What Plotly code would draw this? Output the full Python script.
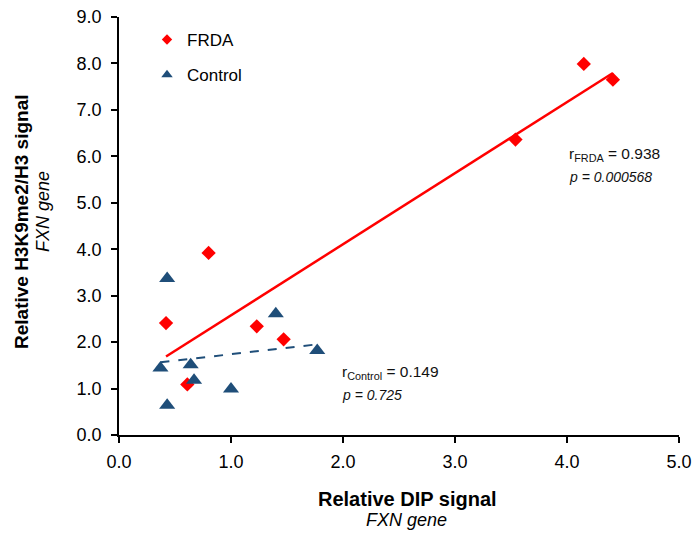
import numpy as np
import plotly.graph_objects as go

# ---- data ----
frda_x = [4.15, 4.41, 3.54, 0.80, 0.42, 1.23, 1.47, 0.61]
frda_y = [7.99, 7.65, 6.36, 3.92, 2.41, 2.34, 2.06, 1.09]
ctrl_x = [0.43, 1.40, 0.37, 0.64, 0.67, 1.00, 1.77, 0.43]
ctrl_y = [3.37, 2.61, 1.44, 1.51, 1.18, 0.99, 1.82, 0.64]
x_ticks = [0, 1, 2, 3, 4, 5]
x_tick_labels = ["0.0", "1.0", "2.0", "3.0", "4.0", "5.0"]
y_ticks = [0, 1, 2, 3, 4, 5, 6, 7, 8, 9]
y_tick_labels = ["0.0", "1.0", "2.0", "3.0", "4.0", "5.0", "6.0", "7.0", "8.0", "9.0"]
r_frda, p_frda = "0.938", "0.000568"
r_ctrl, p_ctrl = "0.149", "0.725"

RED = "#FF0000"
BLUE = "#1F4E79"
FONT = "Liberation Sans, Arial, sans-serif"


def fit_line(xs, ys):
    m, b = np.polyfit(xs, ys, 1)
    x0, x1 = min(xs), max(xs)
    return [x0, x1], [m * x0 + b, m * x1 + b]


fig = go.Figure()

fx, fy = fit_line(frda_x, frda_y)
cx, cy = fit_line(ctrl_x, ctrl_y)

fig.add_trace(go.Scatter(x=fx, y=fy, mode="lines", line=dict(color=RED, width=2.5),
                         showlegend=False, hoverinfo="skip"))
fig.add_trace(go.Scatter(x=cx, y=cy, mode="lines", line=dict(color=BLUE, width=2, dash="dash"),
                         showlegend=False, hoverinfo="skip"))

fig.add_trace(go.Scatter(x=frda_x, y=frda_y, mode="markers", name="FRDA",
                         marker=dict(symbol="diamond", size=11, color=RED),
                         showlegend=False))
fig.add_trace(go.Scatter(x=ctrl_x, y=ctrl_y, mode="markers", name="Control",
                         marker=dict(symbol="triangle-up", size=14, color=BLUE),
                         showlegend=False))

# legend entries (small symbols like the original)
fig.add_trace(go.Scatter(x=[None], y=[None], mode="markers", name="FRDA",
                         marker=dict(symbol="diamond", size=8, color=RED),
                         legendgroup="a"))
fig.add_trace(go.Scatter(x=[None], y=[None], mode="markers", name="Control",
                         marker=dict(symbol="triangle-up", size=10, color=BLUE),
                         legendgroup="b"))

annos = [
    dict(x=4.00, y=6.03, text=f"r<sub>FRDA</sub> = {r_frda}", size=15.5),
    dict(x=4.00, y=5.56, text=f"<i>p = {p_frda}</i>", size=14),
    dict(x=1.97, y=1.34, text=f"r<sub>Control</sub> = {r_ctrl}", size=15.5),
    dict(x=1.97, y=0.87, text=f"<i>p = {p_ctrl}</i>", size=14),
]
for a in annos:
    fig.add_annotation(x=a["x"], y=a["y"], text=a["text"], xref="x", yref="y",
                       xanchor="left", yanchor="middle", showarrow=False,
                       font=dict(family=FONT, color="#111", size=a["size"]))

W, H = 693, 535
L, R, T, B = 119, 14, 17, 100
pw, ph = W - L - R, H - T - B


def px_x(p):
    return (p - L) / pw


def px_y(p):
    return 1 - (p - T) / ph


fig.add_annotation(x=px_x(407), y=px_y(499), xref="paper", yref="paper",
                   text="<b>Relative DIP signal</b>", showarrow=False,
                   xanchor="center", yanchor="middle",
                   font=dict(family=FONT, size=20, color="#000"))
fig.add_annotation(x=px_x(406), y=px_y(520), xref="paper", yref="paper",
                   text="<i>FXN gene</i>", showarrow=False,
                   xanchor="center", yanchor="middle",
                   font=dict(family=FONT, size=18, color="#000"))
fig.add_annotation(x=px_x(22), y=px_y(222), xref="paper", yref="paper",
                   text="<b>Relative H3K9me2/H3 signal</b>", showarrow=False,
                   textangle=-90, xanchor="center", yanchor="middle",
                   font=dict(family=FONT, size=19, color="#000"))
fig.add_annotation(x=px_x(43), y=px_y(212), xref="paper", yref="paper",
                   text="<i>FXN gene</i>", showarrow=False,
                   textangle=-90, xanchor="center", yanchor="middle",
                   font=dict(family=FONT, size=18, color="#000"))

axis_common = dict(showline=True, linecolor="#000", linewidth=1.5, ticks="outside",
                   ticklen=6, tickcolor="#000", tickwidth=1.5, showgrid=False,
                   zeroline=False, tickfont=dict(family=FONT, size=18, color="#000"),
                   automargin=False)

fig.update_layout(
    width=W, height=H,
    margin=dict(l=L, r=R, t=T, b=B),
    paper_bgcolor="white", plot_bgcolor="white",
    font=dict(family=FONT, color="#000"),
    xaxis=dict(range=[0, 5], tickvals=x_ticks, ticktext=x_tick_labels,
               ticklabelstandoff=4, **axis_common),
    yaxis=dict(range=[0, 9], tickvals=y_ticks, ticktext=y_tick_labels,
               ticklabelstandoff=6, **axis_common),
    legend=dict(x=px_x(147), y=px_y(22), xanchor="left", yanchor="top",
                font=dict(family=FONT, size=17, color="#000"),
                bgcolor="rgba(0,0,0,0)", traceorder="grouped", tracegroupgap=10,
                itemwidth=30),
)

# remove the browser's default 8px body margin so the figure sits at the page corner
fig.write_html("out.html", config={"displayModeBar": False},
               post_script="document.body.style.margin='0px';")
